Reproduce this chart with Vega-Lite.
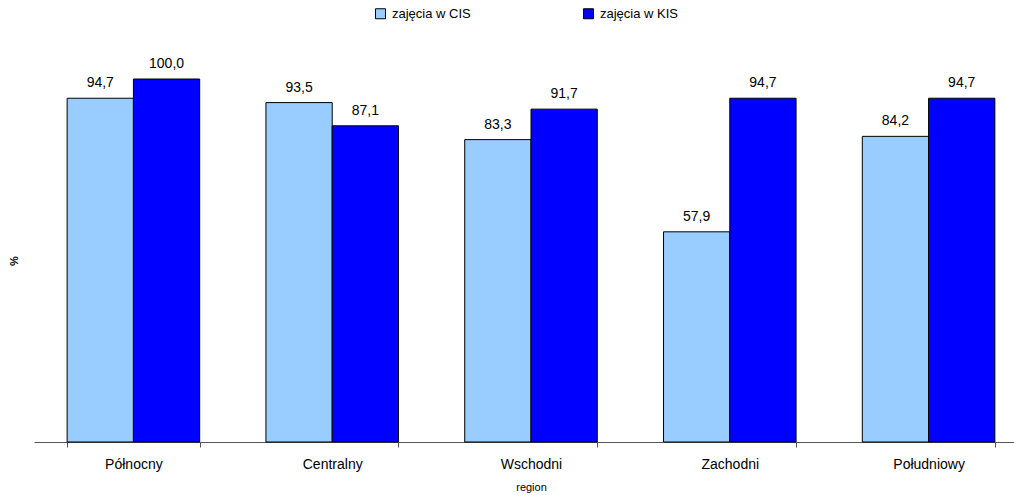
{
  "$schema": "https://vega.github.io/schema/vega-lite/v6.json",
  "autosize": "none",
  "width": 994,
  "height": 363,
  "padding": {"left": 34, "top": 79, "right": 0, "bottom": 53},
  "background": "white",
  "config": {
    "font": "Liberation Sans",
    "view": {"stroke": null},
    "locale": {"number": {"decimal": ",", "thousands": " ", "grouping": [3], "currency": ["", " zł"]}}
  },
  "data": {
    "values": [
      {"region": "Północny", "series": "zajęcia w CIS", "value": 94.7},
      {"region": "Północny", "series": "zajęcia w KIS", "value": 100.0},
      {"region": "Centralny", "series": "zajęcia w CIS", "value": 93.5},
      {"region": "Centralny", "series": "zajęcia w KIS", "value": 87.1},
      {"region": "Wschodni", "series": "zajęcia w CIS", "value": 83.3},
      {"region": "Wschodni", "series": "zajęcia w KIS", "value": 91.7},
      {"region": "Zachodni", "series": "zajęcia w CIS", "value": 57.9},
      {"region": "Zachodni", "series": "zajęcia w KIS", "value": 94.7},
      {"region": "Południowy", "series": "zajęcia w CIS", "value": 84.2},
      {"region": "Południowy", "series": "zajęcia w KIS", "value": 94.7}
    ]
  },
  "encoding": {
    "x": {
      "field": "region", "type": "nominal", "sort": null,
      "scale": {"paddingInner": 0.3333, "paddingOuter": 0.1667},
      "axis": {
        "title": "region", "titleFontSize": 11, "titleFontWeight": "normal", "titleColor": "#000",
        "titlePadding": 10,
        "labelAngle": 0, "labelFontSize": 14, "labelColor": "#000", "labelPadding": 10,
        "tickBand": "extent", "tickSize": 5, "tickColor": "#555", "domainColor": "#555",
        "grid": false
      }
    },
    "xOffset": {"field": "series", "type": "nominal", "scale": {"paddingInner": 0, "paddingOuter": 0}},
    "y": {
      "field": "value", "type": "quantitative",
      "scale": {"domain": [0, 100], "nice": false, "zero": true},
      "axis": {
        "title": "%", "titleFontSize": 11, "titleFontWeight": "bold", "titleColor": "#000",
        "labels": false, "ticks": false, "domain": false, "grid": false, "titlePadding": 15
      }
    }
  },
  "layer": [
    {
      "mark": {"type": "bar", "stroke": "#000", "strokeWidth": 1},
      "encoding": {
        "color": {
          "field": "series", "type": "nominal",
          "scale": {"domain": ["zajęcia w CIS", "zajęcia w KIS"], "range": ["#99CCFF", "#0000FF"]},
          "legend": {
            "title": null, "orient": "none", "direction": "horizontal",
            "legendX": 340, "legendY": -72,
            "symbolType": "square", "symbolSize": 100, "symbolStrokeColor": "#000", "symbolStrokeWidth": 1,
            "labelFontSize": 13, "labelColor": "#000", "labelOffset": 5, "columnPadding": 110
          }
        }
      }
    },
    {
      "mark": {"type": "text", "baseline": "bottom", "dy": -8, "fontSize": 14, "color": "#000"},
      "encoding": {
        "text": {"field": "value", "type": "quantitative", "format": ".1f"}
      }
    }
  ]
}
